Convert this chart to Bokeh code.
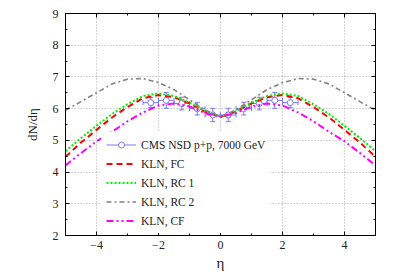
import math
from bokeh.plotting import figure
from bokeh.models import (LinearAxis, FixedTicker, Legend, LegendItem, Range1d,
                          CustomJSTickFormatter)
from bokeh.embed import file_html
from bokeh.resources import INLINE

# ---- data ----
eta_grid = [-5.0, -4.5, -4.0, -3.5, -3.0, -2.5, -2.0, -1.5, -1.0, -0.5, 0.0,
            0.5, 1.0, 1.5, 2.0, 2.5, 3.0, 3.5, 4.0, 4.5, 5.0]
kln_fc = [4.48, 4.93, 5.33, 5.72, 6.05, 6.33, 6.43, 6.36, 6.17, 5.90, 5.74,
          5.90, 6.17, 6.36, 6.43, 6.33, 6.05, 5.72, 5.33, 4.93, 4.48]
kln_rc1 = [4.66, 5.07, 5.46, 5.83, 6.14, 6.40, 6.48, 6.40, 6.19, 5.92, 5.74,
           5.92, 6.19, 6.40, 6.48, 6.40, 6.14, 5.83, 5.46, 5.07, 4.66]
kln_rc2 = [5.95, 6.22, 6.50, 6.78, 6.93, 6.95, 6.82, 6.60, 6.28, 5.96, 5.74,
           5.96, 6.28, 6.60, 6.82, 6.95, 6.93, 6.78, 6.50, 6.22, 5.95]
kln_cf = [4.21, 4.60, 4.97, 5.27, 5.60, 5.88, 6.10, 6.16, 6.07, 5.86, 5.74,
          5.86, 6.07, 6.16, 6.10, 5.88, 5.60, 5.27, 4.97, 4.60, 4.21]

cms_eta = [-2.25, -1.75, -1.25, -0.75, -0.25, 0.25, 0.75, 1.25, 1.75, 2.25]
cms_val = [6.19, 6.26, 6.16, 6.00, 5.80, 5.80, 6.00, 6.16, 6.26, 6.19]
cms_yerr = [0.16, 0.25, 0.20, 0.20, 0.21, 0.21, 0.20, 0.20, 0.25, 0.16]
cms_xerr = [0.25] * 10

x_ticks = [-4, -2, 0, 2, 4]
x_minor = [-5, -3, -1, 1, 3, 5]
y_ticks = [2, 3, 4, 5, 6, 7, 8, 9]
y_minor = [2.5, 3.5, 4.5, 5.5, 6.5, 7.5, 8.5]

FONT = "Liberation Serif"
CMS_COLOR = "#7878f2"

p = figure(width=387, height=273, output_backend="svg", toolbar_location=None,
           x_range=Range1d(-5, 5), y_range=Range1d(2, 9),
           min_border_left=65, min_border_right=12, min_border_top=13,
           min_border_bottom=36, x_axis_label="η", y_axis_label="dN/dη")
p.outline_line_color = "black"
p.outline_line_width = 1
p.background_fill_color = "white"
p.border_fill_color = "white"

xt = FixedTicker(ticks=x_ticks, minor_ticks=x_minor)
yt = FixedTicker(ticks=y_ticks, minor_ticks=y_minor)


def style_axis(ax):
    ax.major_tick_in = 4
    ax.major_tick_out = 0
    ax.minor_tick_in = 2
    ax.minor_tick_out = 0
    ax.axis_line_color = "black"
    ax.major_tick_line_color = "black"
    ax.minor_tick_line_color = "black"
    ax.major_label_text_font = FONT
    ax.major_label_text_font_size = "12px"
    ax.major_label_text_color = "#222222"
    ax.axis_label_text_font = FONT
    ax.axis_label_text_font_style = "normal"
    ax.axis_label_text_color = "#222222"


p.xaxis[0].ticker = xt
p.yaxis[0].ticker = yt
style_axis(p.xaxis[0])
style_axis(p.yaxis[0])
p.xaxis[0].major_label_standoff = 5
p.xaxis[0].axis_label_standoff = 3
p.xaxis[0].axis_label_text_font_size = "15px"
p.yaxis[0].major_label_standoff = 7
p.yaxis[0].axis_label_standoff = 10
p.yaxis[0].axis_label_text_font_size = "13px"

blank = CustomJSTickFormatter(code="return '';")
top_ax = LinearAxis(ticker=xt, formatter=blank)
right_ax = LinearAxis(ticker=yt, formatter=blank)
for ax in (top_ax, right_ax):
    style_axis(ax)
    ax.major_label_standoff = 0
p.add_layout(top_ax, "above")
p.add_layout(right_ax, "right")

p.xgrid.ticker = xt
p.ygrid.ticker = yt
for g in (p.xgrid[0], p.ygrid[0]):
    g.grid_line_color = "#a8a8a8"
    g.grid_line_dash = "1 2"
    g.grid_line_width = 1

# ---- CMS data with error bars ----
x_lo = [e - d for e, d in zip(cms_eta, cms_xerr)]
x_hi = [e + d for e, d in zip(cms_eta, cms_xerr)]
y_lo = [v - d for v, d in zip(cms_val, cms_yerr)]
y_hi = [v + d for v, d in zip(cms_val, cms_yerr)]

hbar = p.segment(x0=x_lo, y0=cms_val, x1=x_hi, y1=cms_val,
                 line_color=CMS_COLOR, line_width=1)
p.segment(x0=cms_eta, y0=y_lo, x1=cms_eta, y1=y_hi,
          line_color=CMS_COLOR, line_width=1)
p.scatter(x=cms_eta + cms_eta, y=y_lo + y_hi, marker="dash", size=5,
          line_color=CMS_COLOR, line_width=1)
p.scatter(x=x_lo + x_hi, y=cms_val + cms_val, marker="dash", size=5,
          angle=math.pi / 2, line_color=CMS_COLOR, line_width=1)
pts = p.scatter(x=cms_eta, y=cms_val, marker="circle", size=6,
                line_color=CMS_COLOR, fill_color="white", line_width=1)

# ---- model curves ----
r_fc = p.line(eta_grid, kln_fc, line_color="#ff0000", line_width=2,
              line_dash="6 4")
r_rc1 = p.line(eta_grid, kln_rc1, line_color="#00ee00", line_width=2,
               line_dash="2 2")
r_rc2 = p.line(eta_grid, kln_rc2, line_color="#808080", line_width=1.6,
               line_dash="5 3 2 3")
r_cf = p.line(eta_grid, kln_cf, line_color="#ff00ff", line_width=2,
              line_dash="7 3 2 3 2 3")

legend = Legend(items=[
    LegendItem(label="CMS NSD p+p, 7000 GeV", renderers=[hbar, pts]),
    LegendItem(label="KLN, FC", renderers=[r_fc]),
    LegendItem(label="KLN, RC 1", renderers=[r_rc1]),
    LegendItem(label="KLN, RC 2", renderers=[r_rc2]),
    LegendItem(label="KLN, CF", renderers=[r_cf]),
], location=(36, 2))
legend.border_line_alpha = 0
legend.background_fill_color = "white"
legend.background_fill_alpha = 1
legend.label_text_font = FONT
legend.label_text_font_size = "11.5px"
legend.label_text_color = "#222222"
legend.glyph_width = 30
legend.glyph_height = 15
legend.label_height = 15
legend.spacing = 4
legend.padding = 5
legend.margin = 0
p.add_layout(legend, "center")

open("out.html", "w").write(file_html(p, INLINE))
